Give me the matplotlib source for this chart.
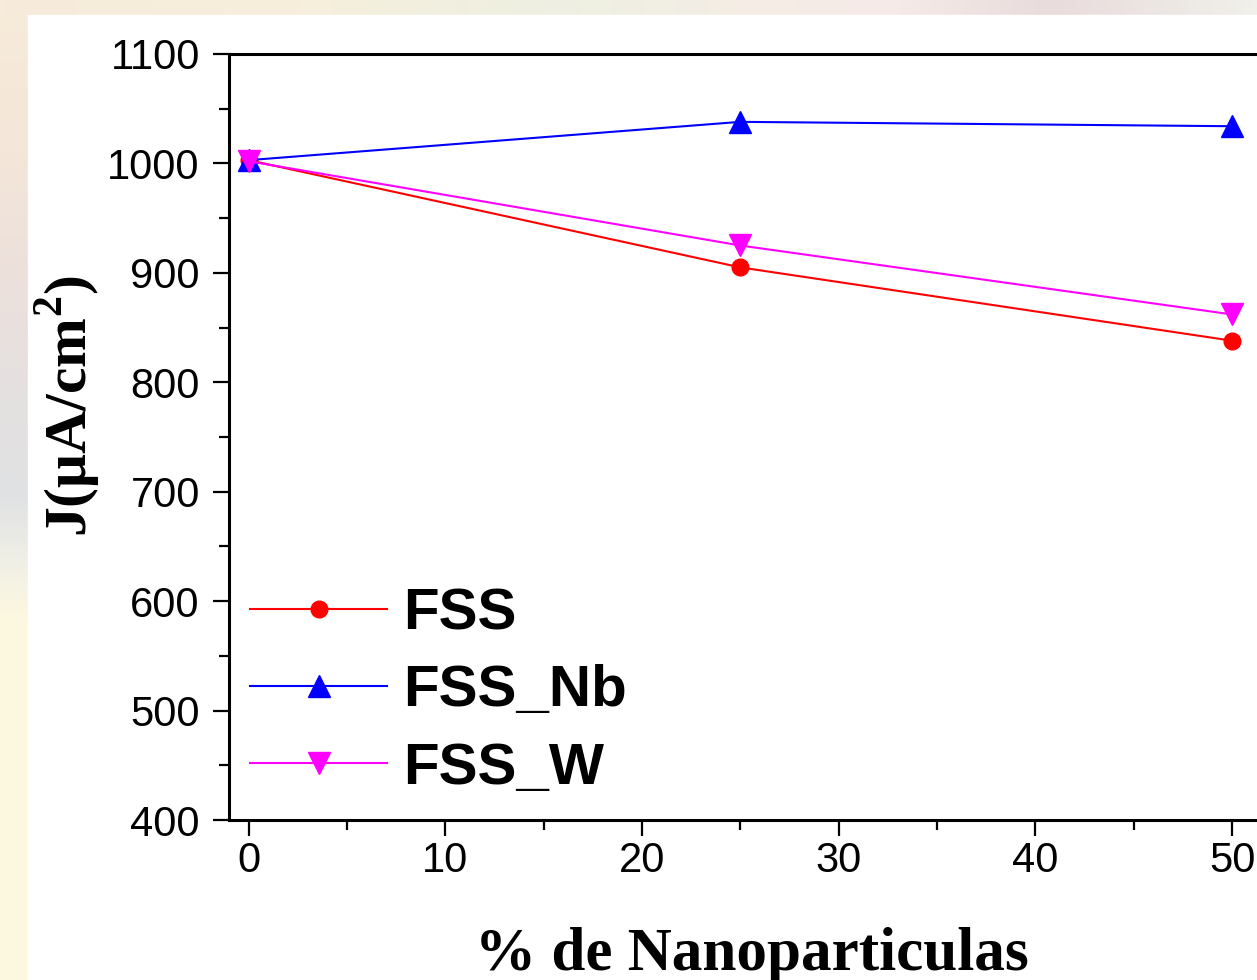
import numpy as np
import matplotlib.pyplot as plt
from matplotlib.ticker import MultipleLocator

# datos
pct = [0, 25, 50]
fss = [1003, 905, 838]
fss_nb = [1003, 1038, 1034]
fss_w = [1002, 925, 862]

plt.rcParams['mathtext.fontset'] = 'custom'
plt.rcParams['mathtext.rm'] = 'Liberation Serif:bold'
plt.rcParams['mathtext.bf'] = 'Liberation Serif:bold'

W, H = 1257, 980
fig = plt.figure(figsize=(W / 100, H / 100), dpi=100)


def hex_rgb(c):
    return [int(c[i:i + 2], 16) / 255 for i in (1, 3, 5)]


def grad(pos, cols, n):
    t = np.linspace(pos[0], pos[-1], n)
    rgb = np.array([hex_rgb(c) for c in cols])
    return np.stack([np.interp(t, pos, rgb[:, k]) for k in range(3)], axis=-1)


# fondo (franjas de la diapositiva)
bg = fig.add_axes([0, 0, 1, 1], zorder=-10)
bg.set_xlim(0, W)
bg.set_ylim(H, 0)
bg.axis('off')
left = grad([0, 150, 280, 400, 500, 560, 620, 980],
            ['#f7ebda', '#f4e6d8', '#ece0dc', '#e4e0e0', '#e0e2e3', '#f0efe6', '#fdf8e0', '#fcf9e0'], 400)
top = grad([0, 300, 550, 800, 900, 1050, 1200, 1257],
           ['#f7ebda', '#f6efdc', '#eef0e2', '#f6ece6', '#f5eae8', '#e9dcdc', '#eeeae6', '#f2f0ea'], 400)
bg.imshow(left[:, None, :], extent=[0, 28, H, 0], aspect='auto')
bg.imshow(top[None, :, :], extent=[0, W, 15, 0], aspect='auto')
bg.add_patch(plt.Rectangle((28, 15), W, H, color='white'))

ax = fig.add_axes([229 / W, 1 - 820 / H, 1062 / W, 766 / H])
ax.plot(pct, fss, color='#ff0000', marker='o', ms=12, lw=1.5, label='FSS')
ax.plot(pct, fss_nb, color='#0000ff', marker='^', ms=16, lw=1.5, label='FSS_Nb')
ax.plot(pct, fss_w, color='#ff00ff', marker='v', ms=16, lw=1.5, label='FSS_W')

ax.set_xlim(-1, 53)
ax.set_ylim(400, 1100)
ax.xaxis.set_major_locator(MultipleLocator(10))
ax.xaxis.set_minor_locator(MultipleLocator(5))
ax.yaxis.set_major_locator(MultipleLocator(100))
ax.yaxis.set_minor_locator(MultipleLocator(50))
ax.set_xticks(range(0, 51, 10))

for s in ax.spines.values():
    s.set_linewidth(2.2)
ax.tick_params(which='major', direction='out', length=11.5, width=1.6, labelsize=30, top=False, right=False)
ax.tick_params(which='minor', direction='out', length=7, width=1.6, top=False, right=False)
ax.tick_params(axis='y', which='major', pad=9.5)
ax.tick_params(axis='x', which='major', pad=3.5)
for lab in ax.get_xticklabels() + ax.get_yticklabels():
    lab.set_family('Liberation Sans')

ax.set_xlabel('% de Nanoparticulas', family='Liberation Serif', weight='bold', fontsize=44)
ax.xaxis.set_label_coords((752 - 229) / 1062, -0.140)
ax.set_ylabel('J(μA/cm$^{2}$)', family='Liberation Serif', weight='bold', fontsize=43)
ax.yaxis.set_label_coords((102 - 229) / 1062, 0.54)

ax.legend(loc='upper left', bbox_to_anchor=(250 / W, 1 - 587 / H), bbox_transform=fig.transFigure,
          frameon=False, borderpad=0, borderaxespad=0, handlelength=2.35, handletextpad=0.27,
          labelspacing=0.4, prop={'family': 'Liberation Sans', 'weight': 'bold', 'size': 42})

fig.savefig('out.png', dpi=100)
